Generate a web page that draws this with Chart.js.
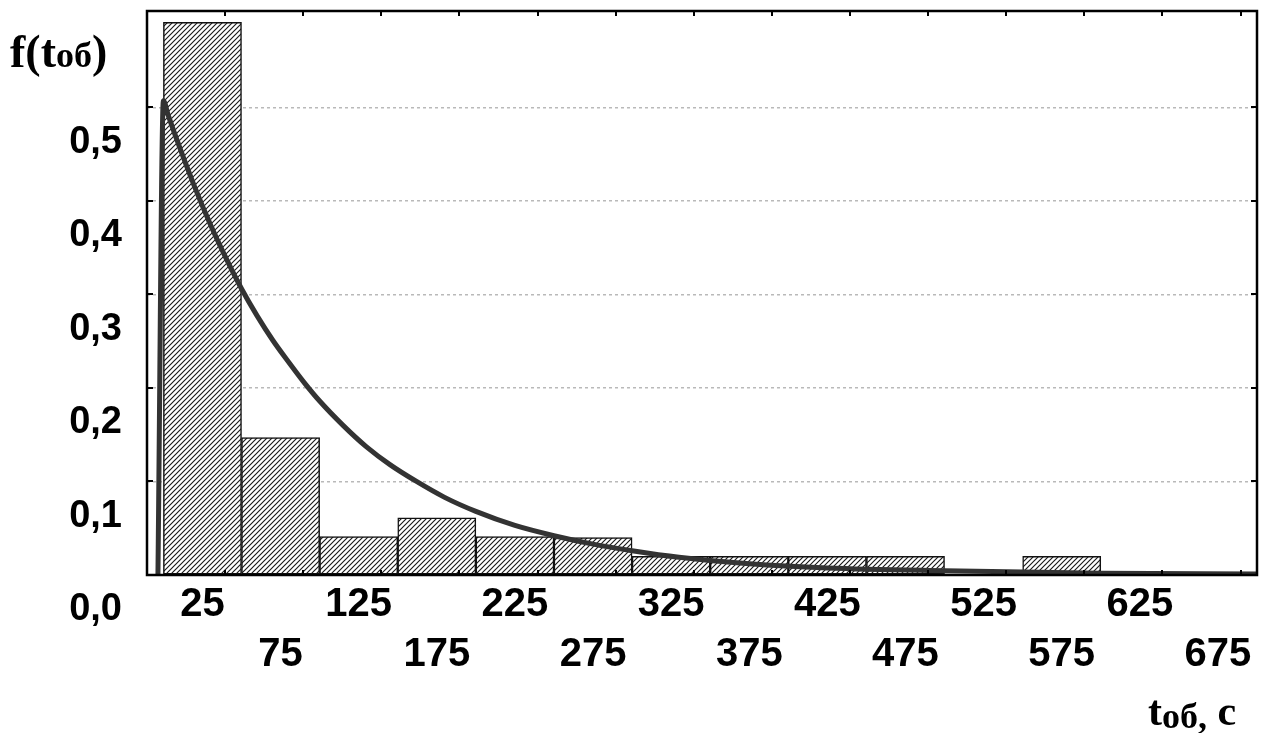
<!DOCTYPE html>
<html>
<head>
<meta charset="utf-8">
<script src="https://cdn.jsdelivr.net/npm/chart.js@4.4.1/dist/chart.umd.min.js"></script>
<style>
  html, body { margin: 0; padding: 0; background: #fff; }
  #wrap { width: 1262px; height: 733px; }
</style>
</head>
<body>
<div id="wrap"><canvas id="c" width="1262" height="733"></canvas></div>
<script>
// Histogram classes (centres, s) and relative frequencies
const binCentres  = [25, 75, 125, 175, 225, 275, 325, 375, 425, 475, 525, 575, 625, 675];
const frequencies = [0.591, 0.147, 0.041, 0.061, 0.041, 0.040, 0.020, 0.020, 0.020, 0.020, 0, 0.020, 0, 0];

// Fitted density f(t) sampled along the curve
const curveT = [-3.5, 0, 3, 10, 20, 30, 40, 50, 60, 70, 80, 90, 100, 115, 130, 145, 162, 180, 200, 225, 250, 275, 300, 330, 375, 425, 500, 600, 700];
const curveF = [0, 0.507, 0.492, 0.459, 0.415, 0.375, 0.339, 0.306, 0.277, 0.251, 0.228, 0.206, 0.186, 0.160, 0.137, 0.118, 0.100, 0.083, 0.068, 0.053, 0.042, 0.033, 0.026, 0.019, 0.012, 0.0075, 0.0045, 0.002, 0.001];

// Axis ticks and labels
const xTickLabels = ['25', '75', '125', '175', '225', '275', '325', '375', '425', '475', '525', '575', '625', '675'];
const yTickValues = [0, 0.1, 0.2, 0.3, 0.4, 0.5];
const yTickLabels = ['0,0', '0,1', '0,2', '0,3', '0,4', '0,5'];
// Small inner tick marks along the frame
const xFrameMarks = [39.5, 89.5, 139.5, 189.5, 239.5, 289.5, 339.5, 389.5, 439.5, 489.5, 539.5, 589.5, 639.5, 689.5];

const canvas = document.getElementById('c');
const mainCtx = canvas.getContext('2d');

// Diagonal "////" hatching for the bars
function makeHatch() {
  const s = 5;
  const t = document.createElement('canvas');
  t.width = s; t.height = s;
  const g = t.getContext('2d');
  g.fillStyle = '#ffffff';
  g.fillRect(0, 0, s, s);
  g.strokeStyle = '#1a1a1a';
  g.lineWidth = 1.15;
  g.beginPath();
  g.moveTo(0, s); g.lineTo(s, 0);
  g.moveTo(-1, 1); g.lineTo(1, -1);
  g.moveTo(s - 1, s + 1); g.lineTo(s + 1, s - 1);
  g.stroke();
  return mainCtx.createPattern(t, 'repeat');
}

// Draws a run of text pieces with their own fonts and baseline shifts
function drawRuns(ctx, x, y, runs) {
  let cx = x;
  runs.forEach(([text, font, dy]) => {
    ctx.font = font;
    ctx.fillText(text, cx, y + dy);
    cx += ctx.measureText(text).width;
  });
}

const framePlugin = {
  id: 'frame',
  afterDatasetsDraw(chart) {
    const { ctx, chartArea: a, scales } = chart;
    const x = scales.x, y = scales.y;
    ctx.save();
    ctx.strokeStyle = '#000';
    ctx.lineWidth = 2.5;
    ctx.strokeRect(a.left, a.top, a.right - a.left, a.bottom - a.top);
    ctx.lineWidth = 2;
    ctx.beginPath();
    yTickValues.slice(1).forEach(v => {
      const py = Math.round(y.getPixelForValue(v));
      ctx.moveTo(a.left, py); ctx.lineTo(a.left + 6, py);
      ctx.moveTo(a.right, py); ctx.lineTo(a.right - 6, py);
    });
    xFrameMarks.forEach(v => {
      const px = Math.round(x.getPixelForValue(v));
      ctx.moveTo(px, a.top); ctx.lineTo(px, a.top + 5);
      ctx.moveTo(px, a.bottom); ctx.lineTo(px, a.bottom - 5);
    });
    ctx.stroke();
    ctx.restore();
  },
  afterDraw(chart) {
    const ctx = chart.ctx;
    ctx.save();
    ctx.fillStyle = '#000';
    ctx.textBaseline = 'alphabetic';
    ctx.textAlign = 'left';
    const big = 'bold 46px "Liberation Serif"';
    const sub = 'bold 36px "Liberation Serif"';
    drawRuns(ctx, 10, 67, [['f(t', big, 0], ['об', sub, 0], [')', big, 0]]);
    const big2 = 'bold 42px "Liberation Serif"';
    drawRuns(ctx, 1148, 725, [['t', big2, 0], ['об,', sub, 3], [' ', big2, 0], ['с', big2, 0]]);
    ctx.restore();
  }
};

const tickFontX = { family: 'Liberation Sans', weight: 'bold', size: 40, lineHeight: 1.25 };
const tickFontY = { family: 'Liberation Sans', weight: 'bold', size: 38 };

new Chart(canvas, {
  data: {
    datasets: [
      {
        type: 'line',
        label: 'f(t)',
        data: curveT.map((t, i) => ({ x: t, y: curveF[i] })),
        borderColor: '#333333',
        borderWidth: 5,
        pointRadius: 0,
        fill: false,
        cubicInterpolationMode: 'monotone',
        borderJoinStyle: 'round',
        order: 0
      },
      {
        type: 'bar',
        label: 'freq',
        data: binCentres.map((c, i) => ({ x: c, y: frequencies[i] })),
        backgroundColor: makeHatch(),
        borderColor: '#111111',
        borderWidth: 1.5,
        borderSkipped: false,
        barPercentage: 1,
        categoryPercentage: 1,
        order: 1
      }
    ]
  },
  options: {
    responsive: false,
    animation: false,
    layout: { padding: { top: 11, right: 5, left: 0, bottom: 0 } },
    plugins: { legend: { display: false }, tooltip: { enabled: false } },
    scales: {
      x: {
        type: 'linear',
        offset: false,
        min: -10.5,
        max: 700,
        afterBuildTicks: s => { s.ticks = binCentres.map(v => ({ value: v })); },
        afterFit: s => { s.height = 158; s.paddingLeft = 0; s.paddingRight = 0; },
        grid: { display: false, drawTicks: false, offset: false },
        border: { display: false },
        ticks: {
          autoSkip: false,
          maxRotation: 0,
          minRotation: 0,
          padding: 5,
          color: '#000',
          font: tickFontX,
          callback: (v, i) => (i % 2 ? ['', xTickLabels[i]] : xTickLabels[i])
        }
      },
      y: {
        type: 'linear',
        min: 0,
        max: 0.603,
        afterBuildTicks: s => { s.ticks = yTickValues.map(v => ({ value: v })); },
        afterFit: s => { s.width = 147; s.paddingTop = 0; s.paddingBottom = 0; },
        grid: { color: '#b9b9b9', lineWidth: 1.5, drawTicks: false },
        border: { display: false, dash: [3, 3] },
        ticks: {
          color: '#000',
          font: tickFontY,
          padding: 25,
          labelOffset: 35,
          callback: (v, i) => yTickLabels[i]
        }
      }
    }
  },
  plugins: [framePlugin]
});
</script>
</body>
</html>
